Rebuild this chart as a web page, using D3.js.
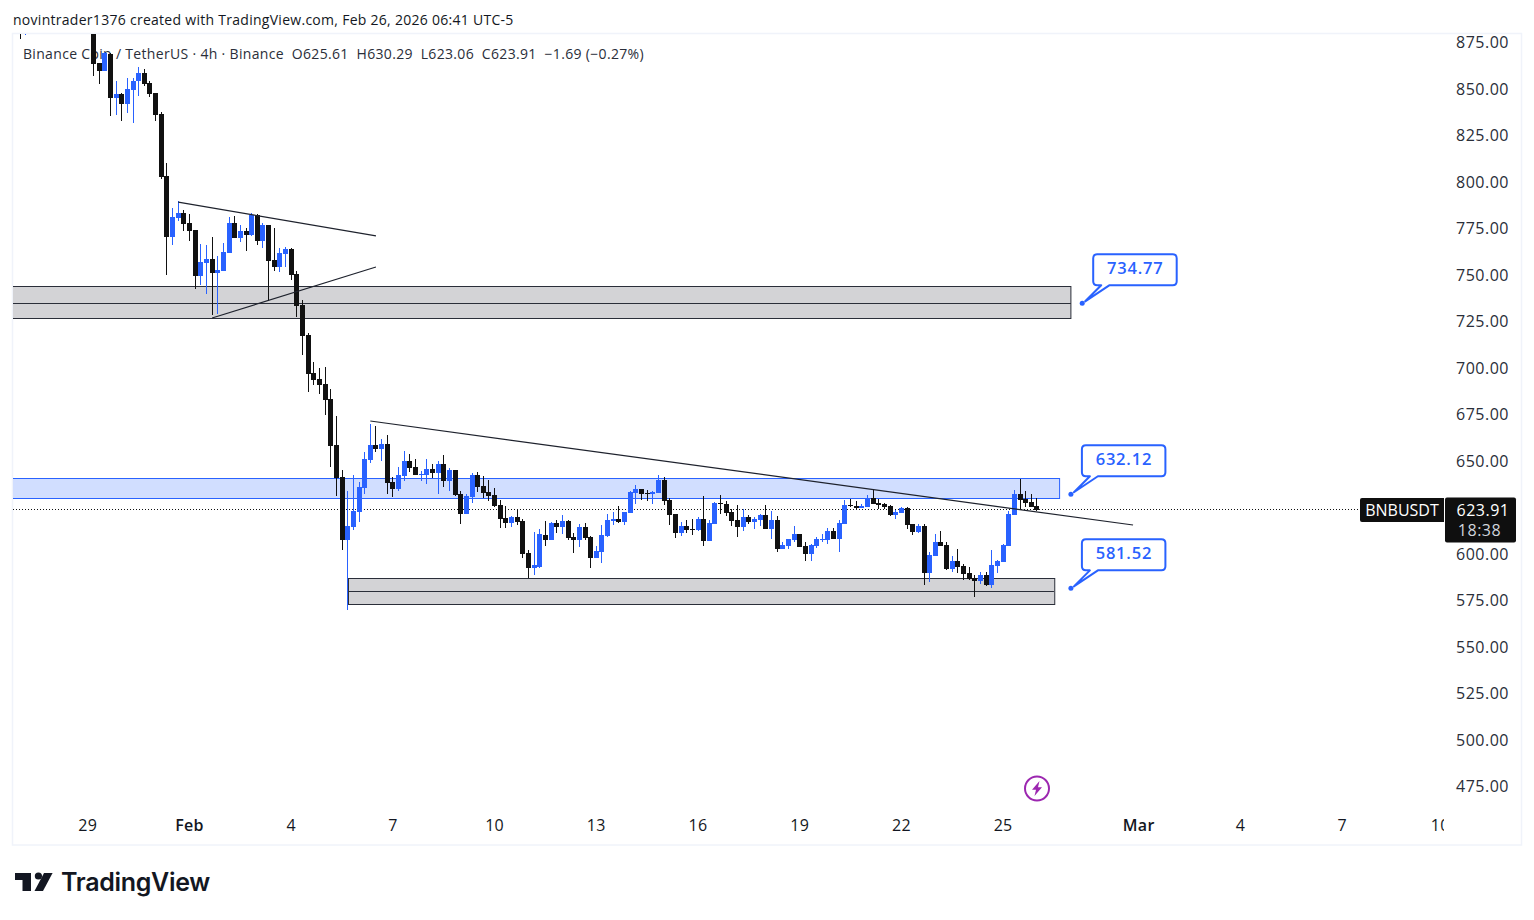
<!DOCTYPE html>
<html>
<head>
<meta charset="utf-8">
<title>BNBUSDT 4h</title>
<script src="https://cdn.jsdelivr.net/npm/d3@7"></script>
<style>
  html, body { margin: 0; padding: 0; background: #fff; }
  svg { display: block; }
  text { font-family: "Open Sans", "Noto Sans", sans-serif; }
  text.wordmark { font-family: Inter, Lato, sans-serif; }
</style>
</head>
<body>
<svg id="chart" width="1534" height="920"></svg>
<script>
// 4h candles, oldest first; the first bar opens on 27 Jan 2026.
const firstBar = new Date(Date.UTC(2026, 0, 27));
const opens = [
  892,884,890,898,895,901,899,894,899,896,892,895,890,
  885,863.8,859.7,868.8,845.3,847.3,842.1,849.6,854.1,858.4,853.1,847.9,836.4,803.2,770.6,780.7,783.3,
  778.0,774.2,749.5,756.4,758.6,751.1,752.1,761.8,778.0,769.9,773.7,771.5,782.2,768.3,776.9,758.0,754.3,761.3,764.0,750.5,
  733.9,717.7,697.3,694.1,691.4,683.3,658.6,641.4,607.5,614.5,622.6,635.5,650.6,658.6,656.5,659.2,638.7,634.9,642.0,650.0,
  646.8,642.5,642.5,645.7,643.5,648.4,639.2,645.2,632.3,621.5,630.6,642.5,636.6,633.3,631.7,626.3,619.4,616.7,619.9,617.7,
  600.5,592.5,593.0,610.2,607.5,616.7,614.5,617.7,609.1,607.5,614.5,609.1,597.9,601.1,609.7,617.7,618.8,617.2,622.1,632.8,
  634.9,632.8,632.3,632.8,639.8,629.0,621.5,611.3,615.1,613.4,612.9,618.8,607.0,616.1,627.4,626.9,622.6,618.3,614.5,619.9,
  617.2,618.3,621.0,613.4,618.3,602.7,604.3,607.5,610.8,604.3,600.0,604.3,607.5,607.5,612.3,608.1,616.1,626.3,625.8,624.7,
  625.3,630.1,627.4,626.9,625.8,621.0,622.1,624.7,616.1,611.8,615.1,589.8,598.9,606.5,604.8,591.9,596.2,593.5,589.8,587.1,
  585.5,588.7,583.3,593.5,595.7,604.3,621.0,632.3,629.6,628.0,625.61
];
const highs = [
  896,893,902,908,904,910,906,902,905,903,900,901,896,
  888,864,869.9,869.2,854.3,847.8,855.8,855.9,861.7,860.6,854.3,847.9,837.5,810.1,786.0,789.6,784.9,
  782.8,774.2,766.7,766.1,770.4,760.2,767.2,781.2,781.7,776.9,775.3,783.2,782.8,778.0,776.9,775.3,764.5,765.1,764.5,752.1,
  736.6,718.8,703.2,700.0,700.5,688.7,674.2,645.2,633.9,642.5,638.7,654.8,669.9,668.8,661.8,664.0,641.4,646.8,655.4,653.8,
  651.1,644.6,651.1,648.4,650.0,653.2,646.2,645.2,633.9,632.3,643.5,644.1,642.0,639.8,635.5,629.0,625.8,620.4,624.2,618.8,
  602.2,611.8,613.4,617.7,617.2,618.3,621.0,618.3,611.3,616.1,616.7,609.7,604.3,615.6,621.5,622.6,625.8,622.6,633.9,637.1,
  634.9,634.4,633.9,642.5,641.4,630.1,621.5,617.2,618.3,618.8,619.9,631.2,618.3,628.0,631.7,628.5,624.2,626.3,624.2,621.0,
  619.9,621.5,626.3,623.1,620.4,606.5,608.1,615.1,610.8,606.5,605.5,609.1,610.8,614.0,614.0,618.3,629.0,629.6,628.5,626.9,
  631.7,634.9,629.6,627.4,626.3,623.7,625.3,625.3,616.1,616.1,616.1,601.1,610.8,612.3,606.5,598.9,602.7,594.6,593.0,588.7,
  590.3,590.3,602.2,596.8,605.4,623.1,634.4,640.3,633.9,632.3,630.29
];
const lows = [
  877.1,879.0,886,892,890,896,892,889,893,890,887,889,884,
  857.0,852.9,859.7,835.6,836.0,833.0,837.0,831.9,846.4,851.8,845.9,833.0,801.6,750.2,766.1,779.0,773.7,
  768.3,742.5,744.6,739.8,728.5,729.0,752.1,761.8,769.9,767.7,762.9,771.0,766.1,764.5,736.0,752.1,751.6,754.3,747.3,727.4,
  707.0,687.1,690.9,686.0,674.7,646.8,631.2,602.2,569.9,612.9,617.2,632.3,648.9,654.8,650.0,632.3,630.6,633.9,639.2,644.1,
  642.5,639.2,637.6,640.9,632.3,636.0,633.9,631.2,616.1,621.5,627.4,633.3,630.1,628.5,625.3,614.0,614.0,614.5,615.6,597.9,
  587.1,588.7,592.5,604.3,607.5,611.3,610.8,607.5,600.5,603.8,607.5,592.5,597.9,595.2,609.1,615.6,616.7,615.6,622.1,626.9,
  629.0,628.5,626.9,632.8,626.3,615.6,608.6,609.7,611.3,610.2,612.3,604.3,607.0,616.1,621.5,620.4,615.1,609.1,612.3,616.1,
  613.4,615.1,613.4,608.1,601.1,602.7,602.7,606.5,603.8,596.2,596.2,603.2,606.5,605.4,608.1,601.1,616.1,625.3,624.2,624.7,
  625.3,626.9,624.2,624.2,620.4,618.8,622.1,613.4,610.2,611.3,583.3,584.9,598.9,604.3,591.4,590.3,589.8,586.0,586.0,576.9,
  583.9,582.8,581.7,589.8,595.7,604.3,621.0,623.7,625.3,625.3,623.06
];
const closes = [
  884,890,898,895,901,899,894,899,896,892,895,890,885,
  863.6,859.7,869.2,845.3,847.3,842.1,850.0,854.3,858.4,852.9,847.5,836.2,802.9,770.6,781.2,783.3,777.6,
  773.8,749.5,757.0,758.6,751.1,752.7,762.4,778.0,769.9,773.7,771.5,782.2,768.3,776.9,757.5,754.3,761.8,764.0,750.0,733.3,
  717.4,696.8,693.6,690.9,682.8,658.1,640.9,607.5,615.1,623.1,636.0,651.1,658.6,656.5,659.2,638.2,634.9,642.5,650.0,646.2,
  642.5,643.0,645.7,643.5,648.4,639.2,645.2,631.7,621.5,631.2,642.5,636.0,632.8,631.2,625.8,618.8,616.7,619.9,617.2,600.0,
  592.5,594.1,610.8,607.5,616.7,614.5,617.7,608.6,607.5,614.5,608.6,597.9,601.6,610.2,618.3,618.8,617.2,622.6,633.3,634.9,
  632.3,632.3,633.3,639.8,628.5,621.0,611.3,615.1,612.9,612.9,618.8,607.0,616.7,627.4,626.9,622.1,617.7,614.5,619.9,617.2,
  618.8,621.0,613.4,618.3,602.7,604.8,608.1,610.8,603.8,600.0,604.8,608.1,608.1,612.3,608.1,616.7,626.3,625.8,624.7,625.8,
  630.1,626.9,626.3,625.3,621.0,622.6,624.7,615.6,611.8,615.1,589.8,599.5,606.5,604.3,591.9,596.2,593.0,589.2,586.6,585.5,
  588.7,583.3,594.1,596.2,604.8,621.5,632.3,629.0,627.4,625.3,623.91
];

// Axis labels
const priceTicks = [875,850,825,800,775,750,725,700,675,650,600,575,550,525,500,475];
const dateTicks = [
  [0,29],[1,1],[1,4],[1,7],[1,10],[1,13],[1,16],[1,19],[1,22],[1,25],[2,1],[2,4],[2,7],[2,10]
].map(([m, d]) => new Date(Date.UTC(2026, m, d)));

// Drawn zones: bar index where each starts and ends, then its top, middle and bottom prices
const zoneStart = [0, 0, 58];
const zoneEnd = [186.2, 184, 183];
const zoneTop = [744.0, 640.7, 587.1];
const zoneMiddle = [735.2, null, 580.1];
const zoneBottom = [727.0, 630.0, 573.0];
const zoneKind = ["grey", "blue", "grey"];

// Trend lines: start bar, start price, end bar, end price
const trendStartBar = [28, 34, 62];
const trendStartPrice = [789.2, 726.9, 671.5];
const trendEndBar = [63, 63, 197];
const trendEndPrice = [771.0, 754.3, 615.6];

// Price callouts
const calloutPrice = [734.77, 632.12, 581.52];
const calloutBar = [188, 186, 186];

const barHours = 4;
const lastClose = closes[closes.length - 1];
const barTime = i => d3.utcHour.offset(firstBar, i * barHours);

const black = "#111111", blue = "#2962ff";
const svg = d3.select("#chart");

const y = d3.scaleLinear().domain([875, 475]).range([42.5, 786.5]);
const x = d3.scaleUtc()
  .domain([new Date(Date.UTC(2026, 0, 29)), new Date(Date.UTC(2026, 2, 10))])
  .range([87.8, 1443.8]);

const defs = svg.append("defs");
defs.append("clipPath").attr("id", "pane").append("rect")
  .attr("x", 13).attr("y", 34).attr("width", 1432).attr("height", 811);
defs.append("clipPath").attr("id", "timeAxisClip").append("rect")
  .attr("x", 13).attr("y", 805).attr("width", 1431).attr("height", 40);

// Outer frame and credit line
svg.append("rect").attr("x", 12.5).attr("y", 33.5).attr("width", 1509).attr("height", 811.5)
  .attr("fill", "none").attr("stroke", "#f0f3fa").attr("stroke-width", 1.5);

svg.append("text").attr("x", 13).attr("y", 25)
  .attr("font-size", 14).attr("fill", "#131722").attr("letter-spacing", 0.28)
  .text("novintrader1376 created with TradingView.com, Feb 26, 2026 06:41 UTC-5");

// Instrument legend sits under the candles
const legend = svg.append("text").attr("x", 23).attr("y", 59)
  .attr("font-size", 14).attr("fill", "#2a2e39").attr("letter-spacing", 0.32).attr("xml:space", "preserve");
legend.text("Binance Coin / TetherUS · 4h · Binance  O625.61  H630.29  L623.06  C623.91  −1.69 (−0.27%)");

const pane = svg.append("g").attr("clip-path", "url(#pane)");

// Zones go behind the candles
const zones = zoneStart.map((s, i) => ({
  x0: x(barTime(s)), x1: x(barTime(zoneEnd[i])),
  top: zoneTop[i], mid: zoneMiddle[i], bottom: zoneBottom[i], kind: zoneKind[i]
}));
const zoneG = pane.append("g").selectAll("g").data(zones).join("g");
zoneG.append("rect")
  .attr("x", d => d.x0 === x(barTime(0)) ? 0 : Math.round(d.x0) + 0.5)
  .attr("width", d => d.x1 - (d.x0 === x(barTime(0)) ? 0 : d.x0))
  .attr("y", d => Math.round(y(d.top)) + 0.5)
  .attr("height", d => Math.round(y(d.bottom)) - Math.round(y(d.top)))
  .attr("fill", d => d.kind === "blue" ? "#d1deff" : "#d3d3d6")
  .attr("stroke", d => d.kind === "blue" ? blue : "#2a2e39")
  .attr("stroke-width", 1);
zoneG.filter(d => d.mid !== null).append("line")
  .attr("x1", d => d.x0 === x(barTime(0)) ? 0 : d.x0)
  .attr("x2", d => d.x1)
  .attr("y1", d => Math.round(y(d.mid)) + 0.5)
  .attr("y2", d => Math.round(y(d.mid)) + 0.5)
  .attr("stroke", "#2a2e39").attr("stroke-width", 1);

// Last price line
pane.append("line")
  .attr("x1", 13).attr("x2", 1360)
  .attr("y1", Math.round(y(lastClose)) - 0.5).attr("y2", Math.round(y(lastClose)) - 0.5)
  .attr("stroke", "#111").attr("stroke-width", 1).attr("stroke-dasharray", "1 2");

// Candles
const bars = opens.map((o, i) => ({ o, h: highs[i], l: lows[i], c: closes[i], t: barTime(i) }));
const candle = pane.append("g").selectAll("g").data(bars).join("g")
  .attr("fill", d => d.c >= d.o ? blue : black);
candle.append("rect")
  .attr("x", d => Math.floor(x(d.t)))
  .attr("width", 1)
  .attr("y", d => Math.round(y(d.h)))
  .attr("height", d => Math.max(1, Math.round(y(d.l)) - Math.round(y(d.h))));
candle.append("rect")
  .attr("x", d => Math.floor(x(d.t)) - 2)
  .attr("width", 5)
  .attr("y", d => Math.round(y(Math.max(d.o, d.c))))
  .attr("height", d => Math.max(1, Math.round(y(Math.min(d.o, d.c))) - Math.round(y(Math.max(d.o, d.c)))));

// Trend lines
pane.append("g").selectAll("line").data(trendStartBar).join("line")
  .attr("x1", (d, i) => x(barTime(d)))
  .attr("y1", (d, i) => y(trendStartPrice[i]))
  .attr("x2", (d, i) => x(barTime(trendEndBar[i])))
  .attr("y2", (d, i) => y(trendEndPrice[i]))
  .attr("stroke", "#1e222d").attr("stroke-width", 1.2);

// Price callouts: a speech bubble anchored on a dot at the quoted price
const callouts = calloutPrice.map((p, i) => ({ p, px: x(barTime(calloutBar[i])), py: y(p) }));
const callout = svg.append("g").selectAll("g").data(callouts).join("g")
  .attr("transform", d => `translate(${d.px},${d.py})`);
const bubblePath = () => {
  const l = 11, t = -49, w = 83.5, h = 31, r = 4;
  return `M${l + r},${t} H${l + w - r} Q${l + w},${t} ${l + w},${t + r} V${t + h - r} Q${l + w},${t + h} ${l + w - r},${t + h}` +
         ` H${l + 16} L3,-2 L${l + 8},${t + h} H${l + r} Q${l},${t + h} ${l},${t + h - r} V${t + r} Q${l},${t} ${l + r},${t} Z`;
};
callout.append("path").attr("d", bubblePath)
  .attr("fill", "#fff").attr("stroke", blue).attr("stroke-width", 2).attr("stroke-linejoin", "round");
callout.append("circle").attr("r", 2.5).attr("fill", blue);
callout.append("text").attr("x", 53).attr("y", -29)
  .attr("text-anchor", "middle").attr("font-size", 16.5).attr("font-weight", 600)
  .attr("fill", blue).attr("letter-spacing", 0.8)
  .text(d => d.p.toFixed(2));

// Price axis
const priceAxis = svg.append("g").attr("transform", "translate(1445,0)")
  .call(d3.axisRight(y).tickValues(priceTicks).tickSize(0).tickPadding(11).tickFormat(d3.format(".2f")));
priceAxis.select(".domain").remove();
priceAxis.selectAll("text").attr("font-size", 16).attr("fill", "#2a2e39").attr("letter-spacing", 0.5);

// Time axis; the final label is nudged left and cut by the pane edge
const timeAxis = svg.append("g").attr("clip-path", "url(#timeAxisClip)")
  .append("g").attr("transform", "translate(0,816)")
  .call(d3.axisBottom(x).tickValues(dateTicks).tickSize(0).tickPadding(4)
    .tickFormat(d => d.getUTCDate() === 1 ? d3.utcFormat("%b")(d) : d3.utcFormat("%-d")(d)));
timeAxis.select(".domain").remove();
timeAxis.selectAll("text").attr("font-size", 16).attr("fill", "#131722").attr("letter-spacing", 0.3)
  .attr("font-weight", d => d.getUTCDate() === 1 ? 600 : 400)
  .attr("dx", (d, i) => i === dateTicks.length - 1 ? -4 : -0.5);

// Symbol and last price tags
const tagY = Math.round(y(lastClose));
svg.append("path")
  .attr("d", `M1444,${tagY - 12} H1362 Q1360,${tagY - 12} 1360,${tagY - 10} V${tagY + 10} Q1360,${tagY + 12} 1362,${tagY + 12} H1444 Z`)
  .attr("fill", "#0f0f0f");
svg.append("text").attr("x", 1402).attr("y", tagY + 5.5)
  .attr("text-anchor", "middle").attr("font-size", 16).attr("fill", "#fff").text("BNBUSDT");
svg.append("rect").attr("x", 1445).attr("y", tagY - 12.5).attr("width", 71).attr("height", 45)
  .attr("rx", 2).attr("fill", "#0f0f0f");
svg.append("text").attr("x", 1483).attr("y", tagY + 5.5)
  .attr("text-anchor", "middle").attr("font-size", 16).attr("font-weight", 500).attr("fill", "#fff").attr("letter-spacing", 0.5)
  .text(lastClose.toFixed(2));
svg.append("text").attr("x", 1479.5).attr("y", tagY + 26)
  .attr("text-anchor", "middle").attr("font-size", 16).attr("fill", "#d1d4dc").attr("letter-spacing", 0.5).text("18:38");

// Alert badge near the last bar
const badge = svg.append("g").attr("transform", "translate(1037,788.5)");
badge.append("circle").attr("r", 12).attr("fill", "#fff").attr("stroke", "#9c27b0").attr("stroke-width", 2);
badge.append("path").attr("d", "M2.5,-7.5 L-5,1.2 L-1,1.2 L-2.5,7.5 L5,-1.2 L1,-1.2 Z").attr("fill", "#9c27b0");

// Wordmark
const logo = svg.append("g").attr("fill", "#131722");
logo.append("path").attr("d", "M15,873 H31 V891 H22.5 V880 H15 Z");
logo.append("circle").attr("cx", 38.4).attr("cy", 876).attr("r", 3.6);
logo.append("path").attr("d", "M44,873 H52.6 L43,891 H34.5 Z");
logo.append("text").attr("class", "wordmark").attr("x", 61).attr("y", 891)
  .attr("font-size", 25).attr("font-weight", 600).attr("letter-spacing", -0.3)
  .text("TradingView");
</script>
</body>
</html>
